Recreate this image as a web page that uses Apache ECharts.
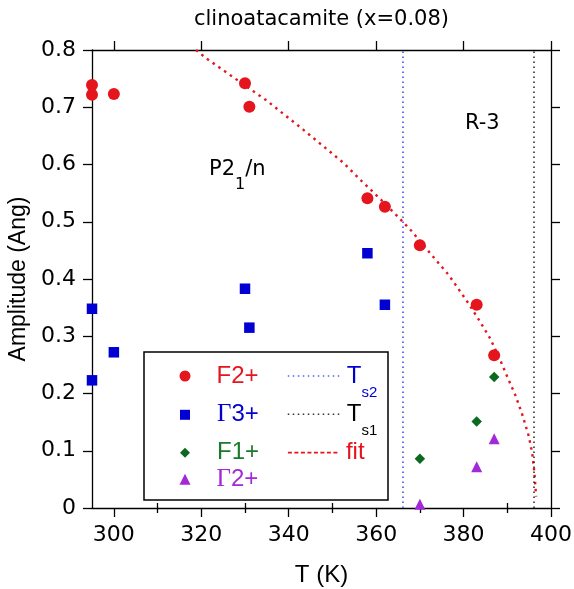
<!DOCTYPE html>
<html><head><meta charset="utf-8">
<script src="https://cdn.jsdelivr.net/npm/echarts@6/dist/echarts.min.js"></script>
<style>html,body{margin:0;padding:0;background:#fff}#c{width:574px;height:589px}</style>
</head><body><div id="c"></div>
<script>
// ---- data ----
const f2T = [295, 295, 300, 330, 331, 358, 362, 370, 383, 387];
const f2V = [0.739, 0.722, 0.723, 0.742, 0.701, 0.541, 0.526, 0.459, 0.355, 0.267];
const g3T = [295, 295, 300, 330, 331, 358, 362];
const g3V = [0.348, 0.223, 0.272, 0.383, 0.315, 0.445, 0.355];
const f1T = [370, 383, 387];
const f1V = [0.086, 0.151, 0.229];
const g2T = [370, 383, 387];
const g2V = [0.0065, 0.072, 0.121];
const fitT = [318.8, 321.2, 334.9, 343.3, 352.5, 356.7, 360.9, 365.1, 368.2, 371.8, 376.6, 380.8, 383.4, 386.1, 388.4, 390.3, 391.8, 393.4, 394.9, 395.7, 396.2, 396.6];
const fitV = [0.800, 0.785, 0.712, 0.661, 0.603, 0.571, 0.540, 0.508, 0.483, 0.450, 0.407, 0.361, 0.330, 0.296, 0.258, 0.224, 0.198, 0.164, 0.126, 0.096, 0.062, 0.020];
const ts2 = [366];
const ts1 = [396];
const xMajor = [300, 320, 340, 360, 380, 400];
const xMinor = [310, 330, 350, 370, 390];
const xMin = 295, xMax = 400, yMin = 0, yMax = 0.8;

const RED = '#e4151c', BLUE = '#0000d2', GREEN = '#0c6a20', PURPLE = '#a228d8', LBLUE = '#3344ee';
const DJ = 'DejaVu Sans', LS = 'Liberation Sans', SERIF = 'Liberation Serif';
const pairs = (a, b) => a.map((v, i) => [v, b[i]]);

const axLine = {show: true, onZero: false, lineStyle: {color: '#000', width: 1.3}};
const tickStyle = {color: '#000', width: 1.3};
function xAx(pos, main, extra) {
  return Object.assign({
    type: 'value', gridIndex: 0, position: pos, min: xMin, max: xMax,
    splitLine: {show: false},
    axisLine: main ? axLine : {show: false},
    axisTick: {show: true, inside: false, length: main ? 9 : 5, customValues: main ? xMajor : xMinor, lineStyle: tickStyle},
    axisLabel: {show: false}
  }, extra || {});
}
const noSym = {color: 'rgba(0,0,0,0)', borderWidth: 0, opacity: 0};

const option = {
  animation: false,
  backgroundColor: '#fff',
  grid: {left: 92, right: 23, top: 50, bottom: 81, containLabel: false, outerBoundsMode: 'none'},
  xAxis: [
    xAx('bottom', true, {
      axisLabel: {show: true, customValues: xMajor, fontFamily: DJ, fontSize: 22, color: '#000', margin: 16},
      name: 'T (K)', nameLocation: 'middle', nameGap: 55,
      nameTextStyle: {fontFamily: LS, fontSize: 24, color: '#000'}
    }),
    xAx('top', true, {
      name: 'clinoatacamite (x=0.08)', nameLocation: 'middle', nameGap: 20,
      nameTextStyle: {fontFamily: DJ, fontSize: 21, color: '#000'}
    }),
    xAx('bottom', false),
    xAx('top', false)
  ],
  yAxis: [
    {type: 'value', gridIndex: 0, position: 'left', min: yMin, max: yMax, interval: 0.1,
     splitLine: {show: false}, axisLine: axLine,
     axisTick: {show: true, inside: false, length: 9, lineStyle: tickStyle},
     axisLabel: {show: true, fontFamily: DJ, fontSize: 22, color: '#000', margin: 16},
     name: 'Amplitude (Ang)', nameLocation: 'middle', nameGap: 57, nameRotate: 90,
     nameTextStyle: {fontFamily: LS, fontSize: 23, color: '#000'}},
    {type: 'value', gridIndex: 0, position: 'right', min: yMin, max: yMax, interval: 0.1,
     splitLine: {show: false}, axisLine: axLine,
     axisTick: {show: true, inside: false, length: 9, lineStyle: tickStyle},
     axisLabel: {show: false}}
  ],
  legend: [
    {data: ['F2+'], left: 179.5, top: 364, itemWidth: 11, itemHeight: 11, padding: 0, selectedMode: false,
     formatter: () => '{a|F2+}', textStyle: {rich: {a: {fontFamily: LS, fontSize: 24, lineHeight: 28, color: RED, padding: [0, 0, 0, 21], verticalAlign: 'middle'}}}},
    {data: ['Γ3+'], left: 180, top: 402.3, itemWidth: 10, itemHeight: 10, padding: 0, selectedMode: false,
     formatter: () => '{g|Γ}{a|3+}', textStyle: {rich: {
       g: {fontFamily: SERIF, fontSize: 25, lineHeight: 28, color: BLUE, padding: [0, 0, 0, 22], verticalAlign: 'middle'},
       a: {fontFamily: LS, fontSize: 24, lineHeight: 28, color: BLUE, verticalAlign: 'middle'}}}},
    {data: ['F1+'], left: 180, top: 440.7, itemWidth: 10, itemHeight: 10, padding: 0, selectedMode: false,
     formatter: () => '{a|F1+}', textStyle: {rich: {a: {fontFamily: LS, fontSize: 24, lineHeight: 28, color: '#1a7a2c', padding: [0, 0, 0, 22], verticalAlign: 'middle'}}}},
    {data: ['Γ2+'], left: 179.5, top: 466.7, itemWidth: 11, itemHeight: 11, padding: 0, selectedMode: false,
     formatter: () => '{g|Γ}{a|2+}', textStyle: {rich: {
       g: {fontFamily: SERIF, fontSize: 25, lineHeight: 28, color: PURPLE, padding: [0, 0, 0, 21], verticalAlign: 'middle'},
       a: {fontFamily: LS, fontSize: 24, lineHeight: 28, color: PURPLE, verticalAlign: 'middle'}}}},
    {data: ['Ts2'], left: 287, top: 364, itemWidth: 52, itemHeight: 10, padding: 0, selectedMode: false,
     lineStyle: {color: '#5566f0', width: 1.6, type: [1.5, 3.5]}, itemStyle: noSym,
     formatter: () => '{t|T}{s|s2}', textStyle: {rich: {
       t: {fontFamily: LS, fontSize: 24, lineHeight: 28, color: BLUE, padding: [0, 0, 0, 2], verticalAlign: 'middle'},
       s: {fontFamily: LS, fontSize: 15, color: BLUE, padding: [33, 0, 0, 0], verticalAlign: 'middle'}}}},
    {data: ['Ts1'], left: 287, top: 402.3, itemWidth: 52, itemHeight: 10, padding: 0, selectedMode: false,
     lineStyle: {color: '#333', width: 1.5, type: [1.5, 3.5]}, itemStyle: noSym,
     formatter: () => '{t|T}{s|s1}', textStyle: {rich: {
       t: {fontFamily: LS, fontSize: 24, lineHeight: 28, color: '#000', padding: [0, 0, 0, 2], verticalAlign: 'middle'},
       s: {fontFamily: LS, fontSize: 15, color: '#000', padding: [33, 0, 0, 0], verticalAlign: 'middle'}}}},
    {data: ['fit'], left: 287, top: 440.7, itemWidth: 52, itemHeight: 10, padding: 0, selectedMode: false,
     lineStyle: {color: RED, width: 1.8, type: [4, 2.5]}, itemStyle: noSym,
     formatter: () => '{a|fit}', textStyle: {rich: {a: {fontFamily: LS, fontSize: 24, lineHeight: 28, color: RED, padding: [0, 0, 0, 1], verticalAlign: 'middle'}}}}
  ],
  graphic: [
    {type: 'rect', z: 3, shape: {x: 144, y: 352, width: 244, height: 148},
     style: {fill: '#fff', stroke: '#000', lineWidth: 1.5}},
    {type: 'text', z: 5, x: 465, y: 124,
     style: {text: 'R-3', font: '21px "DejaVu Sans"', fill: '#000', align: 'left', verticalAlign: 'middle'}},
    {type: 'text', z: 5, x: 209, y: 170,
     style: {text: '{a|P2}{s|1}{a|/n}', align: 'left', verticalAlign: 'middle', fill: '#000',
       rich: {a: {fontFamily: DJ, fontSize: 21, lineHeight: 24, fill: '#000', verticalAlign: 'middle'},
              s: {fontFamily: DJ, fontSize: 16, fill: '#000', padding: [29, 0, 0, 0], verticalAlign: 'middle'}}}}
  ],
  series: [
    {name: 'fit', type: 'line', xAxisIndex: 0, yAxisIndex: 0, data: pairs(fitT, fitV),
     showSymbol: false, symbol: 'none', smooth: false, z: 2,
     lineStyle: {color: RED, width: 2.4, type: [2.5, 4.5]}, itemStyle: {color: RED}},
    {name: 'Ts2', type: 'line', xAxisIndex: 0, yAxisIndex: 0, data: [], symbol: 'none',
     lineStyle: {color: LBLUE, width: 1.5, type: [1.5, 3.5]}, itemStyle: {color: LBLUE},
     markLine: {silent: true, symbol: ['none', 'none'], label: {show: false}, animation: false,
       lineStyle: {color: LBLUE, width: 1.5, type: [1.5, 3.5]}, data: ts2.map(v => ({xAxis: v}))}},
    {name: 'Ts1', type: 'line', xAxisIndex: 0, yAxisIndex: 0, data: [], symbol: 'none',
     lineStyle: {color: '#222', width: 1.5, type: [1.5, 3.5]}, itemStyle: {color: '#222'},
     markLine: {silent: true, symbol: ['none', 'none'], label: {show: false}, animation: false,
       lineStyle: {color: '#222', width: 1.5, type: [1.5, 3.5]}, data: ts1.map(v => ({xAxis: v}))}},
    {name: 'F2+', type: 'scatter', xAxisIndex: 0, yAxisIndex: 0, data: pairs(f2T, f2V),
     symbol: 'circle', symbolSize: 12, itemStyle: {color: RED, opacity: 1}, z: 3},
    {name: 'Γ3+', type: 'scatter', xAxisIndex: 0, yAxisIndex: 0, data: pairs(g3T, g3V),
     symbol: 'rect', symbolSize: 10.5, itemStyle: {color: BLUE, opacity: 1}, z: 3},
    {name: 'F1+', type: 'scatter', xAxisIndex: 0, yAxisIndex: 0, data: pairs(f1T, f1V),
     symbol: 'diamond', symbolSize: 10.5, itemStyle: {color: GREEN, opacity: 1}, z: 3},
    {name: 'Γ2+', type: 'scatter', xAxisIndex: 0, yAxisIndex: 0, data: pairs(g2T, g2V),
     symbol: 'triangle', symbolSize: 11, itemStyle: {color: PURPLE, opacity: 1}, z: 3}
  ]
};
const chart = echarts.init(document.getElementById('c'), null, {renderer: 'canvas'});
chart.setOption(option);
</script></body></html>
